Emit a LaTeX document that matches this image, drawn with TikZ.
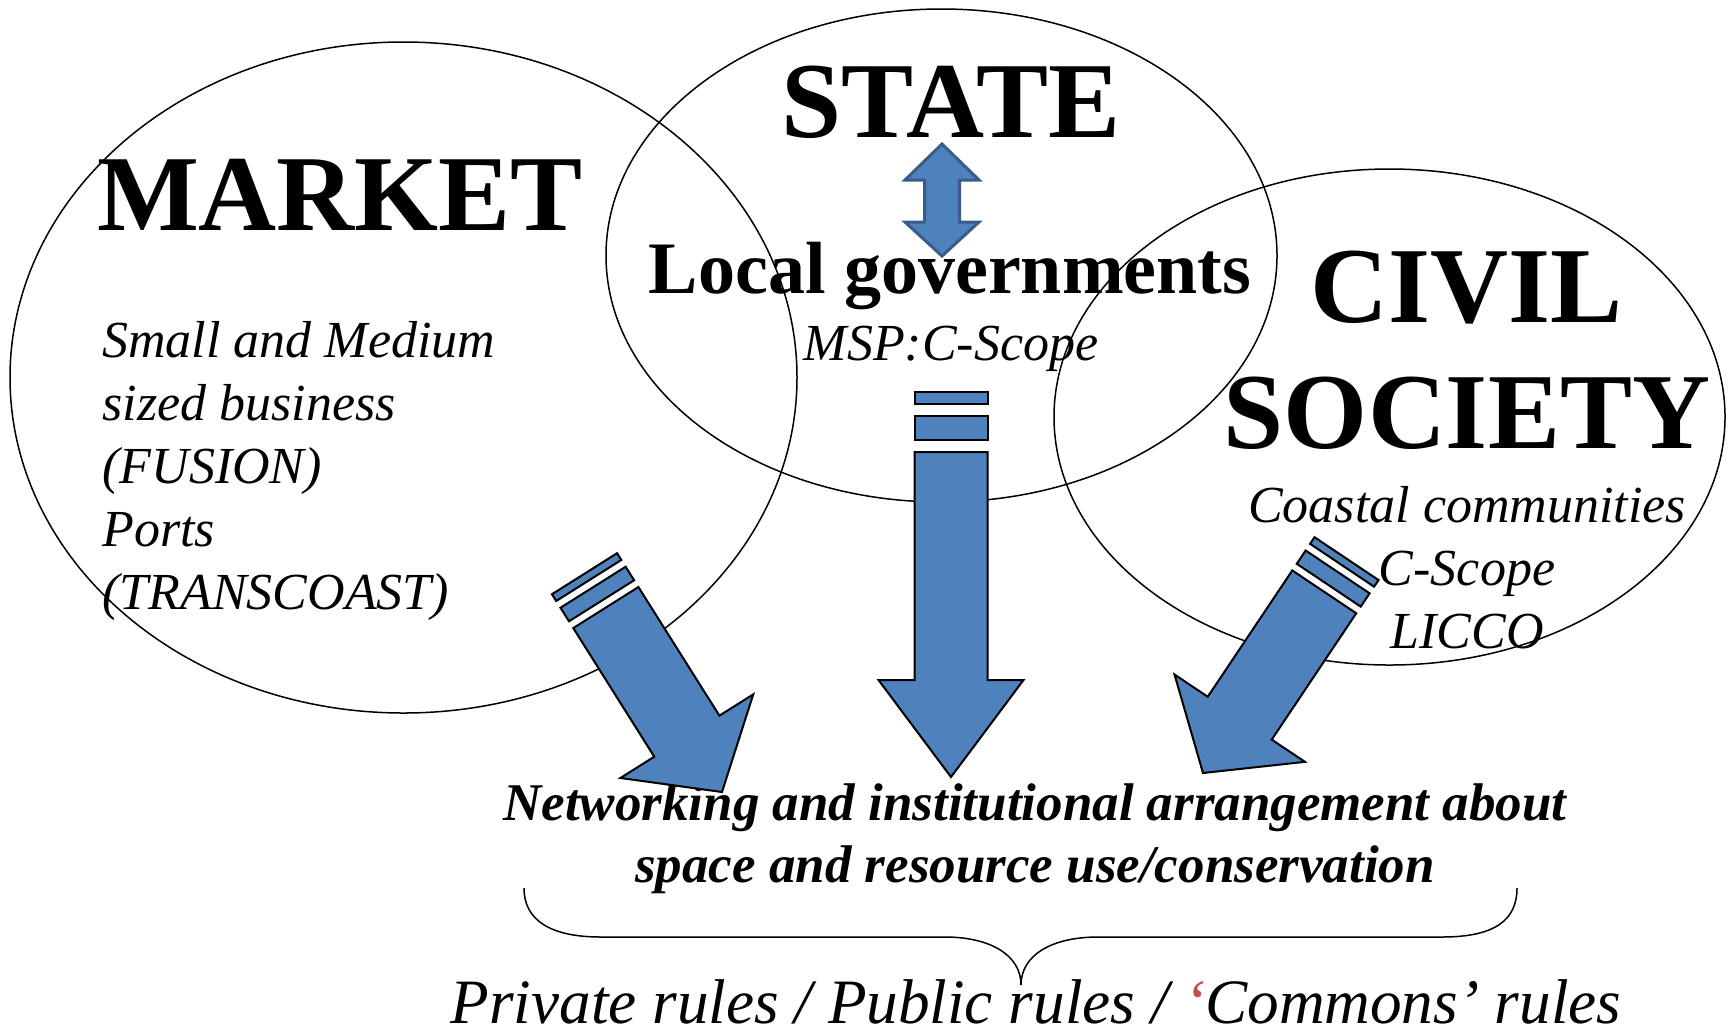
\documentclass[tikz,border=0pt]{standalone}
\usepackage{fontspec}
\setmainfont{Liberation Serif}
\usepackage{tikz}

\definecolor{arrowblue}{HTML}{4F81BD}
\definecolor{arrowedge}{HTML}{385D8A}
\definecolor{quotered}{HTML}{C0504D}

% striped block arrow pointing down, tip at (0,0)
\newcommand{\stripedarrow}[5]{%
    \filldraw[blockarrow] (0,0) -- (#2,-#3) -- (#1,-#3) -- (#1,-#4) -- (-#1,-#4) -- (-#1,-#3) -- (-#2,-#3) -- cycle;
    \filldraw[blockarrow] (-#1,{-#4-#5}) rectangle (#1,{-#4-3*#5});
    \filldraw[blockarrow] (-#1,{-#4-4*#5}) rectangle (#1,{-#4-5*#5});
}

\begin{document}
\begin{tikzpicture}[x=0.5pt, y=-0.5pt,
        set/.style={line width=0.75pt},
        bigword/.style={inner sep=0, font=\fontsize{54}{63}\selectfont\bfseries},
        govword/.style={inner sep=0, font=\fontsize{37}{44}\selectfont\bfseries},
        smallword/.style={inner sep=0, font=\fontsize{26}{31.5}\selectfont\itshape},
        netword/.style={inner sep=0, font=\fontsize{26.5}{31}\selectfont\bfseries\itshape},
        ruleword/.style={inner sep=0, font=\fontsize{31.6}{38}\selectfont\itshape},
        blockarrow/.style={fill=arrowblue, draw=black, line width=1pt}]
    \useasboundingbox (0,0) rectangle (1728,1030);

    \draw[set] (403.5,377.5) ellipse [x radius=393.5, y radius=335.5];
    \draw[set] (941.5,255.5) ellipse [x radius=335.5, y radius=246.5];
    \draw[set] (1389.5,417) ellipse [x radius=335.5, y radius=248];

    % multi-line nodes sit on the baseline of their last line
    \node[bigword, anchor=base] (market) at (340,230) {MARKET};
    \node[bigword, anchor=base] (state) at (951,137) {STATE};
    \node[bigword, anchor=base, align=center] (civil) at (1467,448) {CIVIL\\SOCIETY};
    \node[govword, anchor=base] (localgov) at (950,293) {Local governments};
    \node[smallword, anchor=base] (msp) at (951,360) {MSP:C-Scope};
    \node[smallword, anchor=base west, align=left] (business) at (102,609)
        {Small and Medium\\sized business\\(FUSION)\\Ports\\(TRANSCOAST)};
    \node[smallword, anchor=base, align=center] (coastal) at (1467,648)
        {Coastal communities\\C-Scope\\LICCO};
    \node[netword, anchor=base, align=center] (network) at (1035,882)
        {Networking and institutional arrangement about\\space and resource use/conservation};
    \node[ruleword, anchor=base] (rules) at (1036,1023)
        {Private rules / Public rules / {\color{quotered}‘}Commons’ rules};

    \filldraw[fill=arrowblue, draw=arrowedge, line width=1.5pt]
        (942,144) -- (979,180) -- (959.5,180) -- (959.5,222) -- (979,222) -- (942,256)
        -- (905,222) -- (924.5,222) -- (924.5,180) -- (905,180) -- cycle;

    \begin{scope}[shift={(951,777)}]
        \stripedarrow{36.5}{72.5}{97}{325}{12}
    \end{scope}
    \begin{scope}[shift={(722,792)}, rotate=32.2]
        \stripedarrow{38.5}{78.5}{66}{218}{8}
    \end{scope}
    \begin{scope}[shift={(1203,773)}, rotate=-33.8]
        \stripedarrow{38.5}{78.5}{66}{218}{8}
    \end{scope}

    \draw[line width=0.75pt] (524,888) .. controls (524,920) and (550,937) .. (601,937) -- (945,937)
        .. controls (990,937) and (1021,955) .. (1021,985)
        .. controls (1021,955) and (1052,937) .. (1098,937) -- (1442,937)
        .. controls (1495,937) and (1517,920) .. (1517,888);
\end{tikzpicture}
\end{document}
